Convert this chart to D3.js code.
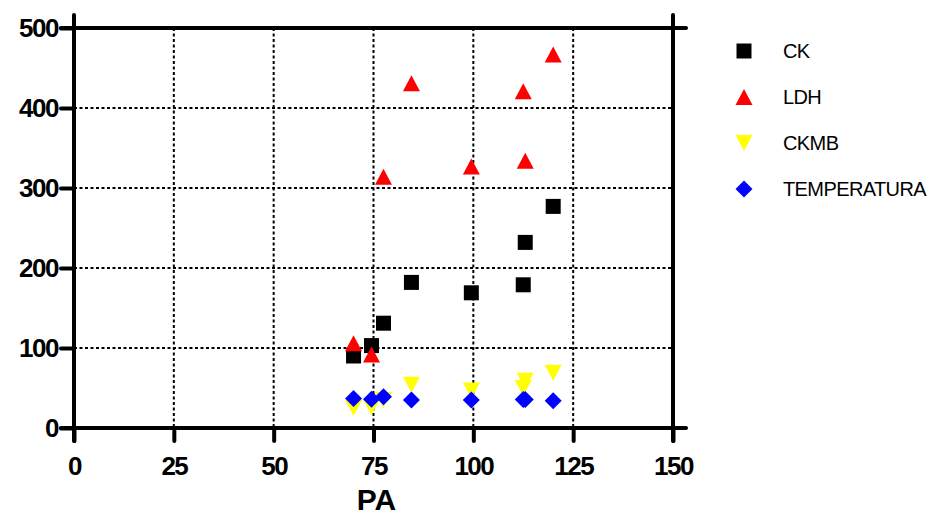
<!DOCTYPE html>
<html>
<head>
<meta charset="utf-8">
<script src="https://cdn.jsdelivr.net/npm/d3@7"></script>
<style>
  body { margin: 0; background: #fff; }
  svg { display: block; font-family: "Liberation Sans", Arial, Helvetica, sans-serif; }
</style>
</head>
<body>
<div id="chart"></div>
<script>
// PA on x, four measurements on y
const pa = [70, 74.5, 77.5, 84.5, 99.5, 112.5, 113, 120];
const ck = [90, 103, 131, 182, 169, 179, 232, 277];
const ldh = [106, 92, 314, 431, 327, 421, 334, 467];
const ckmb = [25, 26, 35, 54, 47, 50, 59, 69];
const temperatura = [37, 36, 39, 35, 35, 35.5, 35.5, 34];

const seriesNames = ["CK", "LDH", "CKMB", "TEMPERATURA"];
const seriesValues = [ck, ldh, ckmb, temperatura];
const seriesColors = ["#000000", "#ff0000", "#ffff00", "#0000ff"];

const xTicks = [0, 25, 50, 75, 100, 125, 150];
const yTicks = [0, 100, 200, 300, 400, 500];

// triangle symbols with the box centred on the point
const triUp = {
  draw(ctx, size) {
    const w = Math.sqrt(size), h = w * 0.94;
    ctx.moveTo(0, -h / 2); ctx.lineTo(w / 2, h / 2); ctx.lineTo(-w / 2, h / 2); ctx.closePath();
  }
};
const triDown = {
  draw(ctx, size) {
    const w = Math.sqrt(size), h = w * 0.94;
    ctx.moveTo(0, h / 2); ctx.lineTo(w / 2, -h / 2); ctx.lineTo(-w / 2, -h / 2); ctx.closePath();
  }
};
const diamond = {
  draw(ctx, size) {
    const r = Math.sqrt(size) / 2;
    ctx.moveTo(0, -r); ctx.lineTo(r, 0); ctx.lineTo(0, r); ctx.lineTo(-r, 0); ctx.closePath();
  }
};
const shapes = [d3.symbolSquare, triUp, triDown, diamond];
const sizes = [225, 289, 289, 289];

const svgWidth = 931, svgHeight = 518;
const margin = { top: 28, right: 258, bottom: 90, left: 74 };
const width = svgWidth - margin.left - margin.right;
const height = svgHeight - margin.top - margin.bottom;

const svg = d3.select("#chart").append("svg")
  .attr("width", svgWidth)
  .attr("height", svgHeight);
const g = svg.append("g")
  .attr("transform", "translate(" + margin.left + "," + margin.top + ")");

const x = d3.scaleLinear().domain([0, 150]).range([0, width]);
const y = d3.scaleLinear().domain([0, 500]).range([height, 0]);

// dotted grid
g.append("g").selectAll("line")
  .data(xTicks.slice(1, -1))
  .enter().append("line")
  .attr("x1", d => x(d)).attr("x2", d => x(d))
  .attr("y1", 0).attr("y2", height)
  .attr("stroke", "#000").attr("stroke-width", 2).attr("stroke-dasharray", "3,2.5");
g.append("g").selectAll("line")
  .data(yTicks.slice(1, -1))
  .enter().append("line")
  .attr("y1", d => y(d)).attr("y2", d => y(d))
  .attr("x1", 0).attr("x2", width)
  .attr("stroke", "#000").attr("stroke-width", 2).attr("stroke-dasharray", "3,2.5");

// axes
const tickLen = 13;
const yAxis = g.append("g")
  .call(d3.axisLeft(y).tickValues(yTicks).tickSize(tickLen).tickPadding(3));
const xAxis = g.append("g")
  .attr("transform", "translate(0," + height + ")")
  .call(d3.axisBottom(x).tickValues(xTicks).tickSize(tickLen).tickPadding(16));
[yAxis, xAxis].forEach(a => {
  a.select(".domain").remove();
  a.selectAll(".tick line").attr("stroke", "#000").attr("stroke-width", 4).attr("stroke-linecap", "round");
  a.selectAll(".tick text")
    .attr("fill", "#000")
    .style("font-family", "'Liberation Sans', Arial, sans-serif")
    .style("font-size", "26px")
    .style("font-weight", "bold")
    .style("letter-spacing", "-1.5px");
});

// frame, sticking out past the corners
const frame = [
  [x(0), -tickLen, x(0), height + tickLen],
  [x(150), -tickLen, x(150), height + tickLen],
  [-tickLen, y(500), width + tickLen, y(500)],
  [-tickLen, y(0), width + tickLen, y(0)]
];
g.append("g").selectAll("line")
  .data(frame)
  .enter().append("line")
  .attr("x1", d => d[0]).attr("y1", d => d[1])
  .attr("x2", d => d[2]).attr("y2", d => d[3])
  .attr("stroke", "#000").attr("stroke-width", 4).attr("stroke-linecap", "round");

// points
seriesValues.forEach((vals, i) => {
  g.append("g").selectAll("path")
    .data(vals)
    .enter().append("path")
    .attr("d", d3.symbol().type(shapes[i]).size(sizes[i]))
    .attr("transform", (d, j) => "translate(" + x(pa[j]) + "," + y(d) + ")")
    .attr("fill", seriesColors[i]);
});

// x title
svg.append("text")
  .attr("x", margin.left + width / 2 + 3)
  .attr("y", 510)
  .attr("text-anchor", "middle")
  .style("font-size", "30px")
  .style("font-weight", "bold")
  .text("PA");

// legend
const legend = svg.append("g").attr("transform", "translate(744,51)");
const item = legend.selectAll("g")
  .data(seriesNames)
  .enter().append("g")
  .attr("transform", (d, i) => "translate(0," + (i * 46) + ")");
item.append("path")
  .attr("d", (d, i) => d3.symbol().type(shapes[i]).size(sizes[i])())
  .attr("fill", (d, i) => seriesColors[i]);
item.append("text")
  .attr("x", 39)
  .attr("dy", "0.36em")
  .style("font-size", "20px")
  .style("letter-spacing", "-0.6px")
  .text(d => d);
</script>
</body>
</html>
